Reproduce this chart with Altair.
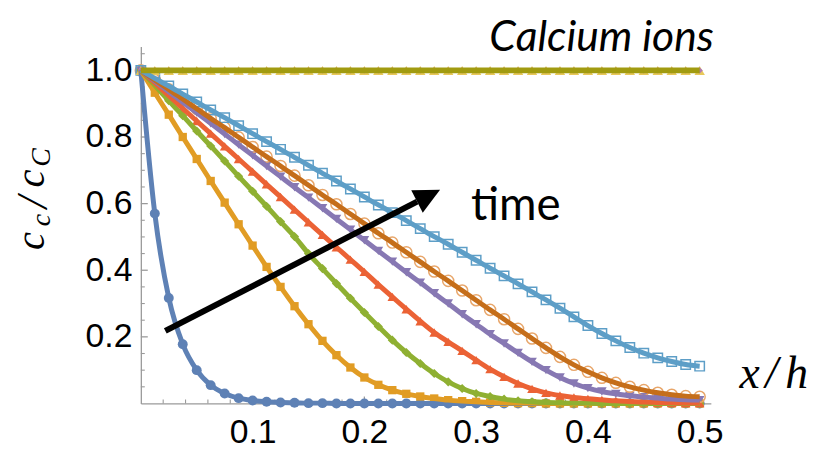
import altair as alt
import pandas as pd

# ---------------- data ----------------
x_grid = [0, 0.0125, 0.025, 0.0375, 0.05, 0.0625, 0.075, 0.0875, 0.1, 0.1125,
          0.125, 0.1375, 0.15, 0.1625, 0.175, 0.1875, 0.2, 0.2125, 0.225, 0.2375,
          0.25, 0.2625, 0.275, 0.2875, 0.3, 0.3125, 0.325, 0.3375, 0.35, 0.3625,
          0.375, 0.3875, 0.4, 0.4125, 0.425, 0.4375, 0.45, 0.4625, 0.475, 0.4875, 0.5]

blue = [1.0, 0.57, 0.317, 0.178, 0.1, 0.055, 0.03, 0.016, 0.009, 0.005, 0.003, 0.002, 0.001, 0.001,
        0, 0, 0, 0, 0, 0, 0, 0, 0, 0, 0, 0, 0, 0, 0, 0, 0, 0, 0, 0, 0, 0, 0, 0, 0, 0, 0]
orange = [1.0, 0.933, 0.867, 0.80, 0.734, 0.668, 0.603, 0.538, 0.474, 0.41, 0.35, 0.292, 0.238,
          0.188, 0.145, 0.108, 0.078, 0.056, 0.04, 0.029, 0.021, 0.015, 0.01, 0.007, 0.005, 0.003,
          0.002, 0.001, 0.001, 0, 0, 0, 0, 0, 0, 0, 0, 0, 0, 0, 0]
green = [1.0, 0.955, 0.909, 0.864, 0.818, 0.773, 0.728, 0.682, 0.637, 0.592, 0.546, 0.501, 0.45,
         0.405, 0.36, 0.316, 0.273, 0.231, 0.19, 0.153, 0.12, 0.09, 0.065, 0.045, 0.03, 0.021,
         0.013, 0.008, 0.005, 0.003, 0.002, 0.001, 0.001, 0, 0, 0, 0, 0, 0, 0, 0]
red = [1.0, 0.962, 0.924, 0.886, 0.848, 0.81, 0.772, 0.734, 0.696, 0.658, 0.62, 0.582, 0.544,
       0.506, 0.469, 0.432, 0.395, 0.357, 0.32, 0.283, 0.247, 0.213, 0.185, 0.158, 0.13, 0.103,
       0.08, 0.06, 0.044, 0.032, 0.024, 0.018, 0.014, 0.011, 0.008, 0.006, 0.004, 0.003, 0.002,
       0.001, 0.001]
purple = [1.0, 0.968, 0.936, 0.904, 0.873, 0.841, 0.809, 0.777, 0.745, 0.713, 0.681, 0.649, 0.618,
          0.586, 0.554, 0.522, 0.49, 0.458, 0.426, 0.394, 0.363, 0.331, 0.30, 0.268, 0.238, 0.208,
          0.18, 0.152, 0.125, 0.1, 0.078, 0.06, 0.046, 0.036, 0.029, 0.023, 0.019, 0.016, 0.013,
          0.011, 0.01]
brown = [1.0, 0.971, 0.943, 0.914, 0.885, 0.856, 0.828, 0.799, 0.77, 0.741, 0.713, 0.684, 0.655,
         0.626, 0.598, 0.569, 0.54, 0.511, 0.483, 0.454, 0.425, 0.396, 0.368, 0.339, 0.31, 0.281,
         0.253, 0.224, 0.195, 0.167, 0.14, 0.116, 0.095, 0.077, 0.062, 0.05, 0.04, 0.032, 0.026,
         0.022, 0.02]
lightblue = [1.0, 0.976, 0.953, 0.929, 0.905, 0.881, 0.858, 0.834, 0.81, 0.786, 0.763, 0.739,
             0.715, 0.691, 0.668, 0.644, 0.62, 0.596, 0.573, 0.549, 0.525, 0.501, 0.478, 0.454,
             0.43, 0.406, 0.383, 0.359, 0.335, 0.311, 0.286, 0.26, 0.234, 0.21, 0.188, 0.168,
             0.151, 0.137, 0.126, 0.117, 0.112]
flat = [1.0] * 41

x_major_ticks = [0.1, 0.2, 0.3, 0.4, 0.5]
x_minor_ticks = [0.02, 0.04, 0.06, 0.08, 0.12, 0.14, 0.16, 0.18, 0.22, 0.24, 0.26, 0.28,
                 0.32, 0.34, 0.36, 0.38, 0.42, 0.44, 0.46, 0.48]
y_major_ticks = [0.2, 0.4, 0.6, 0.8, 1.0]
y_minor_ticks = [0.05, 0.1, 0.15, 0.25, 0.3, 0.35, 0.45, 0.5, 0.55, 0.65, 0.7, 0.75,
                 0.85, 0.9, 0.95, 1.05]

arrow_x = [0.0219, 0.2472]
arrow_y = [0.218, 0.606]
arrow_head_x = [0.2574]
arrow_head_y = [0.624]

# ---------------- chart ----------------
W, H = 575, 360
x_enc = alt.X("x:Q", scale=alt.Scale(domain=[0, 0.51], nice=False, zero=False),
              axis=alt.Axis(values=x_major_ticks, format=".1f", title=None, grid=False,
                            ticks=False, tickSize=0, labelFontSize=34, labelFont="Liberation Sans",
                            labelColor="black", labelPadding=12, labelFlush=False,
                            domainColor="#9a9a9a", domainWidth=1.3))
y_enc = alt.Y("y:Q", scale=alt.Scale(domain=[0, 1.0714], nice=False, zero=False),
              axis=alt.Axis(values=y_major_ticks, format=".1f", title=None, grid=False,
                            ticks=False, tickSize=0, labelFontSize=34, labelFont="Liberation Sans",
                            labelColor="black", labelPadding=9, labelFlush=False,
                            domainColor="#9a9a9a", domainWidth=1.3))


def series_df(vals):
    return pd.DataFrame({"x": x_grid, "y": vals})


series = [
    # values, line colour, marker kwargs
    (blue, "#5E81B5", dict(shape="circle", size=100, filled=True, color="#5E81B5")),
    (orange, "#E19C24", dict(shape="square", size=70, filled=True, color="#E19C24")),
    (green, "#8FB032", dict(shape="diamond", size=85, filled=True, color="#8FB032")),
    (red, "#EB6235", dict(shape="triangle-up", size=95, filled=True, color="#EB6235")),
    (purple, "#8778B3", dict(shape="triangle-down", size=95, filled=True, color="#8778B3")),
    (brown, "#C56E1A", dict(shape="circle", size=125, filled=False, color="#E8A66A", strokeWidth=1.5)),
    (lightblue, "#5D9EC7", dict(shape="square", size=90, filled=False, color="#5D9EC7", strokeWidth=1.5)),
]

point_layers = []
line_layers = []
for vals, col, mk in series:
    df = series_df(vals)
    point_layers.append(alt.Chart(df).mark_point(opacity=1, **mk).encode(x=x_enc, y=y_enc))
    line_layers.append(alt.Chart(df).mark_line(color=col, strokeWidth=5, interpolate="monotone")
                       .encode(x=x_enc, y=y_enc))

flat_df = series_df(flat)
flat_line = alt.Chart(flat_df).mark_line(color="#A19B10", strokeWidth=6).encode(x=x_enc, y=y_enc)
flat_pts1 = alt.Chart(flat_df).mark_point(shape="triangle-up", size=110, filled=True, color="#E8C85A",
                                          opacity=1).encode(x=x_enc, y=y_enc)
flat_pts2 = alt.Chart(flat_df).mark_point(shape="diamond", size=40, filled=True, color="#B07AB0",
                                          opacity=1).encode(x=x_enc, y=y_enc)

# axis ticks (pointing into the plot, Mathematica style)
xt_major = alt.Chart(pd.DataFrame({"x": x_major_ticks})).mark_rule(color="#9a9a9a", strokeWidth=1.3).encode(
    x=x_enc, y=alt.value(H), y2=alt.value(H - 7))
xt_minor = alt.Chart(pd.DataFrame({"x": x_minor_ticks})).mark_rule(color="#9a9a9a", strokeWidth=1.1).encode(
    x=x_enc, y=alt.value(H), y2=alt.value(H - 4))
yt_major = alt.Chart(pd.DataFrame({"y": y_major_ticks})).mark_rule(color="#9a9a9a", strokeWidth=1.3).encode(
    y=y_enc, x=alt.value(0), x2=alt.value(7))
yt_minor = alt.Chart(pd.DataFrame({"y": y_minor_ticks})).mark_rule(color="#9a9a9a", strokeWidth=1.1).encode(
    y=y_enc, x=alt.value(0), x2=alt.value(4))

# arrow "time"
arrow_line = alt.Chart(pd.DataFrame({"x": arrow_x, "y": arrow_y})).mark_line(
    color="black", strokeWidth=6).encode(x=x_enc, y=y_enc)
arrow_head = alt.Chart(pd.DataFrame({"x": arrow_head_x, "y": arrow_head_y})).mark_point(
    shape="M0,-1L0.98,1L-0.98,1Z", size=680, angle=63, filled=True, color="black", opacity=1
).encode(x=x_enc, y=y_enc)

one = pd.DataFrame({"a": [0]})


def label(text, px, py, **kw):
    return alt.Chart(one).mark_text(text=text, **kw).encode(x=alt.value(px), y=alt.value(py))


serif = dict(font="Liberation Serif", fontStyle="italic", baseline="alphabetic", color="black")
texts = [
    label("time", 333, 175, font="Lato", fontSize=46, align="left", baseline="alphabetic", color="black"),
    label("Calcium ions", 578, 4, font="Lato", fontSize=43, fontStyle="italic", align="right",
          baseline="alphabetic", color="black"),
    # x/h
    label("x", 604, 344, fontSize=46, align="left", **serif),
    label("/", 630, 344, fontSize=46, align="left", **serif),
    label("h", 650, 344, fontSize=46, align="left", **serif),
    # y-axis title  c_c / c_C  (rotated)
    label("c", -98, 196, fontSize=41, angle=270, align="center", **serif),
    label("c", -92, 175, fontSize=28, angle=270, align="center", **serif),
    label("/", -95, 157, fontSize=44, angle=270, align="center", **serif),
    label("c", -98, 133, fontSize=41, angle=270, align="center", **serif),
    label("C", -92, 112, fontSize=28, angle=270, align="center", **serif),
]

chart = alt.layer(
    xt_major, xt_minor, yt_major, yt_minor,
    *point_layers, flat_pts1, flat_pts2,
    *line_layers, flat_line,
    arrow_line, arrow_head,
    *texts,
).properties(
    width=W, height=H,
    autosize=alt.AutoSizeParams(type="none"),
    padding={"left": 134, "top": 37, "right": 98, "bottom": 45},
    background="white",
).configure_view(stroke=None)

chart.save("out.html", embed_options={"renderer": "svg", "actions": False})
